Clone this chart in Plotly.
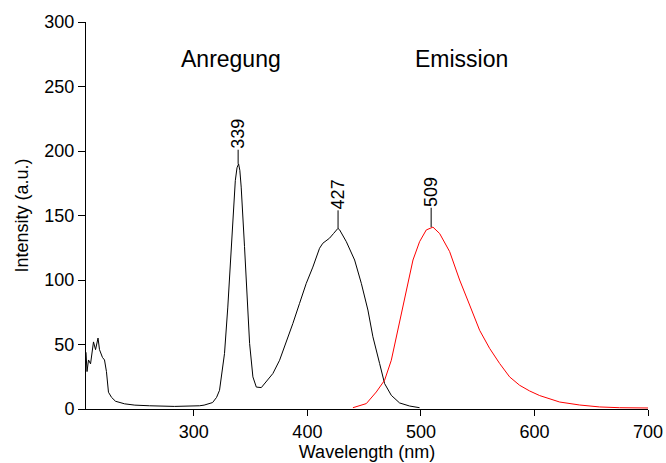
import plotly.graph_objects as go

# Excitation spectrum (Anregung)
ex_wl = [205, 205.9, 207.2, 209, 211.6, 213.4, 215.6, 216.9, 219.5, 221.3, 223, 224.8,
         227.5, 231, 239, 248, 261, 283, 305, 309, 316.5, 320, 322.6, 324.4, 327, 329.9,
         332, 334.3, 336.5, 338, 339.4, 340.5, 341.7, 344.6, 347.6, 349.1, 352, 355,
         359.4, 363.8, 369.6, 375.5, 381.4, 387.2, 393.1, 399, 404.8, 410.7, 413.6, 419.5,
         423, 426.9, 428.3, 434.3, 441.6, 447.5, 453.3, 457.7, 463.6, 468, 473.9, 481.2,
         490, 498.8]
ex_int = [44, 29, 38, 35, 52, 46, 55, 46, 40, 38, 29, 13,
          9, 6, 4, 3, 2.5, 2, 2.5, 3, 5, 9, 14.5, 25, 43, 79,
          108, 147, 177, 187, 190, 185, 172, 126, 74, 50.8, 24.9, 17,
          16.6, 21, 27.5, 37.8, 52, 66.3, 81.9, 97.4, 110, 124.6, 128.5, 132.4,
          136, 140, 139, 129.7, 115.5, 97.4, 76.7, 56, 35.3, 19.7, 10.6, 4.7,
          2.3, 1]

# Emission spectrum
em_wl = [440.1, 451.9, 460.7, 468, 473.9, 479.7, 484.1, 488.5, 493, 498.8, 504.7,
         510.6, 516.5, 525.3, 534.1, 542.9, 551.7, 560.5, 569.3, 578.1, 586.9, 595.7,
         604.6, 622.2, 639.8, 657.4, 675, 700]
em_int = [1, 4.2, 13.2, 22.3, 37.8, 61, 79, 97.4, 115.5, 129.7, 138.8,
          141, 136, 122, 100, 80.6, 61, 47, 35.3, 24.9, 18.4, 14,
          10.4, 5.4, 3.1, 1.6, 1, 0.8]

# Peak labels
peak_wl = [339, 427, 509]
peak_int = [190, 140, 141]
label_top = [201, 154, 156]
peak_text = ["339", "427", "509"]

# Section titles
section_text = ["Anregung", "Emission"]
section_x = [332.5, 535.5]
section_y = [271]

x_ticks = [300, 400, 500, 600, 700]
y_ticks = [0, 50, 100, 150, 200, 250, 300]

FONT = "Liberation Sans, Arial, sans-serif"

fig = go.Figure()
fig.add_trace(go.Scatter(x=ex_wl, y=ex_int, mode="lines",
                         line=dict(color="black", width=1), showlegend=False))
fig.add_trace(go.Scatter(x=em_wl, y=em_int, mode="lines",
                         line=dict(color="red", width=1), showlegend=False))

for wl, yi, yt, t in zip(peak_wl, peak_int, label_top, peak_text):
    fig.add_trace(go.Scatter(x=[wl, wl], y=[yi, yt], mode="lines",
                             line=dict(color="black", width=1), showlegend=False))
    fig.add_annotation(x=wl, y=yt, text=t, textangle=-90, showarrow=False,
                       xanchor="center", yanchor="bottom", borderpad=0,
                       font=dict(size=18, color="black", family=FONT))

for t, sx in zip(section_text, section_x):
    fig.add_annotation(x=sx, y=section_y[0], text=t, showarrow=False,
                       xanchor="center", yanchor="middle",
                       font=dict(size=23, color="black", family=FONT))

fig.update_layout(
    width=666, height=463,
    margin=dict(l=86, r=18, t=22, b=54, autoexpand=False),
    paper_bgcolor="white", plot_bgcolor="white",
    font=dict(family=FONT, size=18, color="black"),
    showlegend=False,
)
fig.update_xaxes(range=[205, 700], tickvals=x_ticks, showgrid=False, zeroline=False,
                 showline=True, linecolor="black", linewidth=1, automargin=False,
                 ticks="outside", ticklen=6, tickcolor="black", tickwidth=1,
                 ticklabelstandoff=0,
                 title=dict(text="Wavelength (nm)", standoff=4, font=dict(size=18)))
fig.update_yaxes(range=[0, 300], tickvals=y_ticks, showgrid=False, zeroline=False,
                 showline=True, linecolor="black", linewidth=1, automargin=False,
                 ticks="outside", ticklen=7, tickcolor="black", tickwidth=1,
                 ticklabelstandoff=0,
                 title=dict(text="Intensity (a.u.)", standoff=11, font=dict(size=18)))

# remove the default page margin so the figure fills the window exactly
fig.write_html("out.html",
               config={"displayModeBar": False},
               post_script="document.body.style.margin='0';"
                           "document.body.style.overflow='hidden';")
